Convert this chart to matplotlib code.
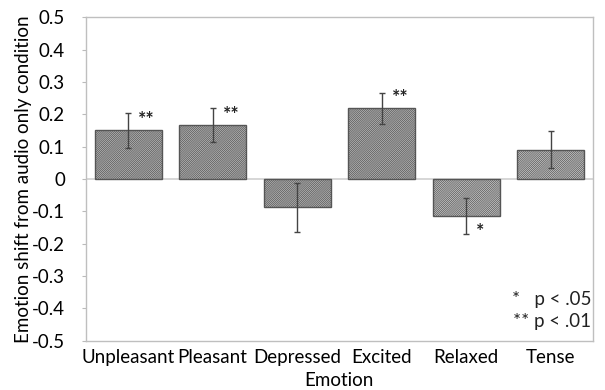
import numpy as np
import matplotlib
matplotlib.use("Agg")
import matplotlib.pyplot as plt

# emozioni e spostamento medio rispetto alla condizione solo audio
emotions = ["Unpleasant", "Pleasant", "Depressed", "Excited", "Relaxed", "Tense"]
shift = [0.150, 0.166, -0.088, 0.218, -0.114, 0.091]
err = [0.053, 0.053, 0.077, 0.049, 0.056, 0.057]
signif = ["**", "**", "", "**", "*", ""]
yticks = [0.5, 0.4, 0.3, 0.2, 0.1, 0, -0.1, -0.2, -0.3, -0.4, -0.5]
ytick_labels = ["0.5", "0.4", "0.3", "0.2", "0.1", "0", "-0.1", "-0.2", "-0.3", "-0.4", "-0.5"]

plt.rcParams["font.family"] = ["Lato", "DejaVu Sans"]
plt.rcParams["hatch.linewidth"] = 0.5
plt.rcParams["hatch.color"] = "#9a9a9a"

fig = plt.figure(figsize=(6.05, 3.9), dpi=100)
ax = fig.add_axes([0.142, 0.126, 0.838, 0.830])

x = np.arange(len(emotions))
faces = ["#bababa"] * 4 + ["#cccccc"] * 2

ax.axhline(0, color="#d0d0d0", lw=1.2, zorder=1)
bars = ax.bar(x, shift, width=0.79, color=faces, edgecolor="#555555",
              linewidth=1.0, hatch="////////////////", zorder=2)
ax.errorbar(x, shift, yerr=err, fmt="none", ecolor="#444444", elinewidth=1.0,
            capsize=2, capthick=1.0, zorder=3)

# asterischi di significatività a destra della barra d'errore
for xi, v, e, s in zip(x, shift, err, signif):
    if not s:
        continue
    if v > 0:
        ax.text(xi + 0.12, v + 0.008, s, ha="left", va="bottom", fontsize=14,
                fontweight="bold", color="#222222")
    else:
        ax.text(xi + 0.12, v - e + 0.035, s, ha="left", va="top", fontsize=14,
                fontweight="bold", color="#222222")

ax.text(0.997, 0.127, "*   p < .05", transform=ax.transAxes, ha="right",
        va="center", fontsize=13.5, color="#222222")
ax.text(0.997, 0.059, "** p < .01", transform=ax.transAxes, ha="right",
        va="center", fontsize=13.5, color="#222222")

ax.set_xlim(-0.5, len(emotions) - 0.5)
ax.set_ylim(-0.5, 0.5)
ax.set_yticks(yticks)
ax.set_yticklabels(ytick_labels)
ax.set_xticks(x)
ax.set_xticklabels(emotions)
ax.tick_params(axis="y", length=3, color="#bbbbbb", labelsize=13.5, pad=12)
ax.tick_params(axis="x", length=0, labelsize=13.5, pad=6)
for sp in ax.spines.values():
    sp.set_color("#bfbfbf")
    sp.set_linewidth(1.0)

ax.set_xlabel("Emotion", fontsize=13.5, labelpad=4)
ax.set_ylabel("Emotion shift from audio only condition", fontsize=13.5, labelpad=0)

fig.savefig("out.png", dpi=100)
